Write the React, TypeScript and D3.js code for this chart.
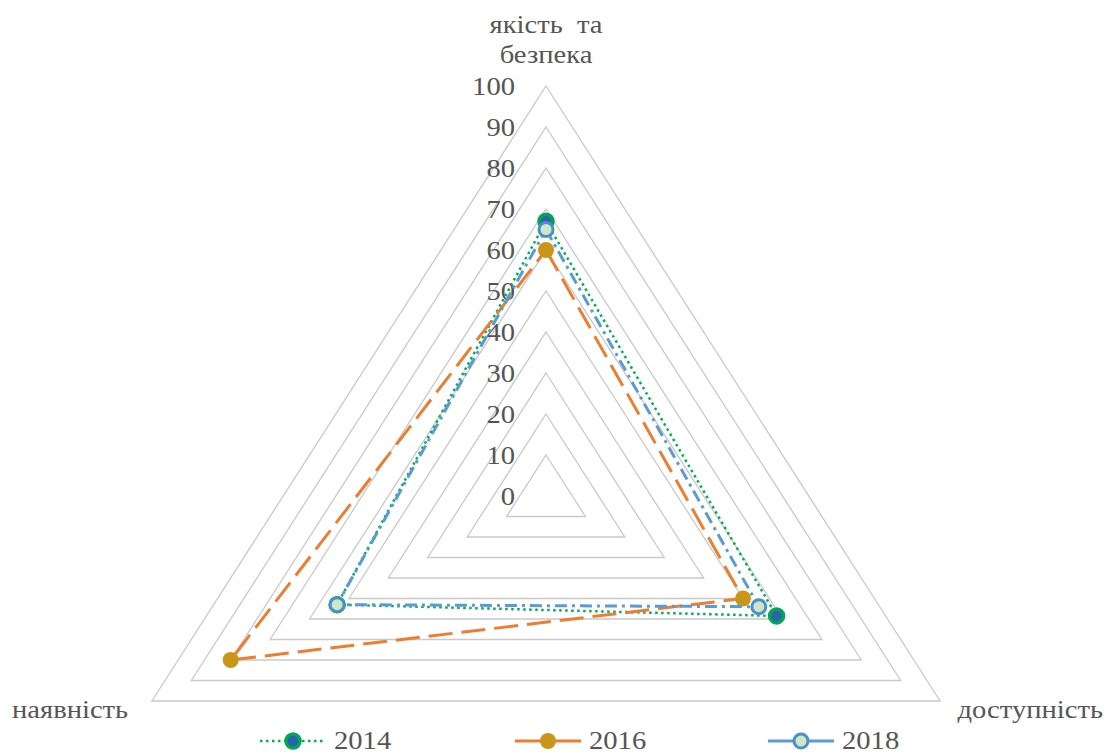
import React from 'react';
import * as d3 from 'd3';

const categories = ['якість  та|безпека', 'доступність', 'наявність'];
const years = ['2014', '2016', '2018'];
const quality = [67, 60, 65];
const access = [58.5, 50, 54];
const availability = [53, 80, 53];
const ticks = [0, 10, 20, 30, 40, 50, 60, 70, 80, 90, 100];

const W = 1112, H = 754;
const cx = 546, cy = 496, R = 410, sx = 1.11;
const FONT = '"Liberation Serif", "Times New Roman", "DejaVu Serif", serif';
const TS = 1.1;

const seriesStyle = [
  { stroke: '#00B050', width: 2.5, dash: '2.5 3.5', mFill: '#2a62b0', mStroke: '#00A651', mSW: 3.5, r: 7 },
  { stroke: '#ED7D31', width: 3, dash: '24 9', mFill: '#C9961A', mStroke: '#C9961A', mSW: 0, r: 8 },
  { stroke: '#5B9BD5', width: 3, dash: '12 5 3 5', mFill: '#cfe6c8', mStroke: '#4A90C8', mSW: 3, r: 7 },
];
const legendX = [293, 548, 801];

function T({ x, y, anchor = 'start', children, dy }: { x: number; y: number; anchor?: string; children: React.ReactNode; dy?: string }) {
  return (
    <text transform={`translate(${x},${y}) scale(${TS},1)`} textAnchor={anchor} dy={dy} style={{ whiteSpace: 'pre' }}>
      {children}
    </text>
  );
}

export default function App() {
  const rScale = d3.scaleLinear().domain([0, 100]).range([0, R]);
  const angle = (i: number) => -Math.PI / 2 + (i * 2 * Math.PI) / 3;
  const pt = (i: number, v: number): [number, number] => [
    cx + rScale(v) * Math.cos(angle(i)) * sx,
    cy + rScale(v) * Math.sin(angle(i)),
  ];
  const line = d3.line<[number, number]>().curve(d3.curveLinearClosed);
  const seriesValues = years.map((_, k) => [quality[k], access[k], availability[k]]);

  return (
    <svg width={W} height={H} style={{ position: 'absolute', left: 0, top: 0, background: '#fff' }}>
      <g>
        {ticks.filter((t) => t > 0).map((t) => (
          <path key={t} d={line([0, 1, 2].map((i) => pt(i, t)))!} fill="none" stroke="#c9c9c9" strokeWidth={1.3} />
        ))}
      </g>
      <g fontFamily={FONT} fontSize={26} fill="#555555">
        {ticks.map((t) => (
          <T key={t} x={515} y={cy - rScale(t)} dy="0.35em" anchor="end">{t}</T>
        ))}
      </g>
      <g fontFamily={FONT} fontSize={26} fill="#555555">
        <T x={546} y={33} anchor="middle">{categories[0].split('|')[0]}</T>
        <T x={546} y={63} anchor="middle">{categories[0].split('|')[1]}</T>
        <T x={1103} y={718} anchor="end">{categories[1]}</T>
        <T x={12} y={718} anchor="start">{categories[2]}</T>
      </g>
      {seriesValues.map((vals, k) => {
        const s = seriesStyle[k];
        const pts = vals.map((v, i) => pt(i, v));
        return (
          <g key={years[k]}>
            <path d={line(pts)!} fill="none" stroke={s.stroke} strokeWidth={s.width} strokeDasharray={s.dash} />
            {pts.map((p, i) => (
              <circle key={i} cx={p[0]} cy={p[1]} r={s.r} fill={s.mFill} stroke={s.mStroke} strokeWidth={s.mSW} />
            ))}
          </g>
        );
      })}
      <g fontFamily={FONT} fontSize={26} fill="#555555">
        {years.map((y, k) => {
          const s = seriesStyle[k];
          const x = legendX[k];
          return (
            <g key={y}>
              <line x1={x - 33} x2={x + 33} y1={741} y2={741} stroke={s.stroke} strokeWidth={s.width} strokeDasharray={k === 0 ? s.dash : undefined} />
              <circle cx={x} cy={741} r={s.r} fill={s.mFill} stroke={s.mStroke} strokeWidth={s.mSW} />
              <T x={x + 41} y={749}>{y}</T>
            </g>
          );
        })}
      </g>
    </svg>
  );
}
